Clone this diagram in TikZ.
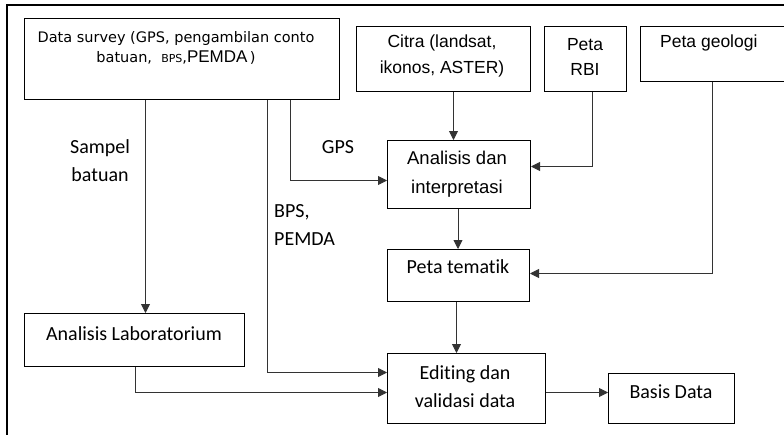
\documentclass[tikz,border=0pt]{standalone}
\usepackage{fontspec}
\setmainfont{Carlito}[Ligatures={NoCommon}]
\newfontfamily\arialf{Liberation Sans}
\newfontfamily\tahf{DejaVu Sans}
\usetikzlibrary{arrows.meta,calc}
\begin{document}
\begin{tikzpicture}[x=1pt,y=-1pt,
  box/.style={draw=black, line width=1pt, inner sep=0pt, anchor=north west},
  conn/.style={draw=black!80, line width=0.9pt},
  arr/.style={conn, -{Triangle[length=9pt,width=9pt]}},
  txt/.style={inner sep=0pt, align=center, font=\fontsize{20}{28}\selectfont},
  atxt/.style={inner sep=0pt, align=center, font=\arialf\fontsize{17.5}{25.5}\selectfont},
]
\useasboundingbox (0,0) rectangle (784,434);
\fill[white] (0,0) rectangle (784,434);
% outer frame
\coordinate (fbl) at (7,440);
\coordinate (ftl) at (7,5);
\coordinate (ftr) at (790,5);
\draw[line width=1.2pt] (fbl) -- (ftl) -- (ftr);

% boxes
\node[box, minimum width=315pt, minimum height=81pt] (ds) at (24,18) {};
\node[box, minimum width=174pt, minimum height=65pt] (citra) at (356,26) {};
\node[box, minimum width=82pt, minimum height=65pt] (rbi) at (544,26) {};
\node[box, minimum width=150pt, minimum height=55pt] (geo) at (640,26) {};
\node[box, minimum width=143pt, minimum height=68pt] (ana) at (387,140) {};
\node[box, minimum width=142pt, minimum height=52pt] (tem) at (387,249) {};
\node[box, minimum width=220pt, minimum height=53pt] (lab) at (24,313) {};
\node[box, minimum width=158pt, minimum height=70pt] (edit) at (387,353) {};
\node[box, minimum width=126pt, minimum height=50pt] (basis) at (608,373) {};

% box texts
\node[inner sep=0pt, align=center, font=\tahf\fontsize{14.5}{19.5}\selectfont] (dst) at (176,48)
  {Data survey (GPS, pengambilan conto\\ batuan,\ \ {\fontsize{11}{19.5}\selectfont BPS},{\arialf\fontsize{17}{19.5}\selectfont PEMDA}\,)};
\node[atxt] (citrat) at (442,56) {Citra (landsat,\\ ikonos, ASTER)};
\node[atxt] (rbit) at (585,57) {Peta\\ RBI};
\node[atxt, anchor=west] (geot) at (660,43) {Peta geologi};
\node[atxt, font=\arialf\fontsize{18.5}{28.5}\selectfont] (anat) at (457,174) {Analisis dan\\ interpretasi};
\node[txt] (temt) at (458,267) {Peta tematik};
\node[txt] (labt) at (134,334) {Analisis Laboratorium};
\node[txt] (editt) at (465,387) {Editing dan\\ validasi data};
\node[txt] (basist) at (671,392) {Basis Data};

% connector labels
\node[txt] (lsampel) at (100,161) {Sampel\\ batuan};
\node[txt] (lgps) at (338,147) {GPS};
\node[txt, align=left, anchor=west] (lbps) at (274,225) {BPS,\\ PEMDA};

% connectors
\draw[arr] ([xshift=10pt]citra.south) -- ([xshift=10pt]citra.south |- ana.north);
\draw[arr] ([xshift=7pt]rbi.south) |- ([yshift=8pt]ana.east);
\draw[arr] ([xshift=108.5pt]ds.south) |- ([yshift=-6pt]ana.west);
\draw[arr] ([xshift=-36.5pt]ds.south) -- ([xshift=-36.5pt]ds.south |- lab.north);
\draw[arr] ([xshift=85.5pt]ds.south) |- ([yshift=16pt]edit.west);
\draw[arr] ([xshift=1pt]lab.south) |- ([yshift=-4pt]edit.west);
\draw[arr] ([xshift=-3pt]geo.south) |- ([yshift=2pt]tem.east);
\draw[arr] ([xshift=-1pt]ana.south) -- ([xshift=-1pt]ana.south |- tem.north);
\draw[arr] ([xshift=-2pt]tem.south) -- ([xshift=-2pt]tem.south |- edit.north);
\draw[arr] ([yshift=-4pt]edit.east) -- ([yshift=-4pt]edit.east -| basis.west);
\end{tikzpicture}
\end{document}
